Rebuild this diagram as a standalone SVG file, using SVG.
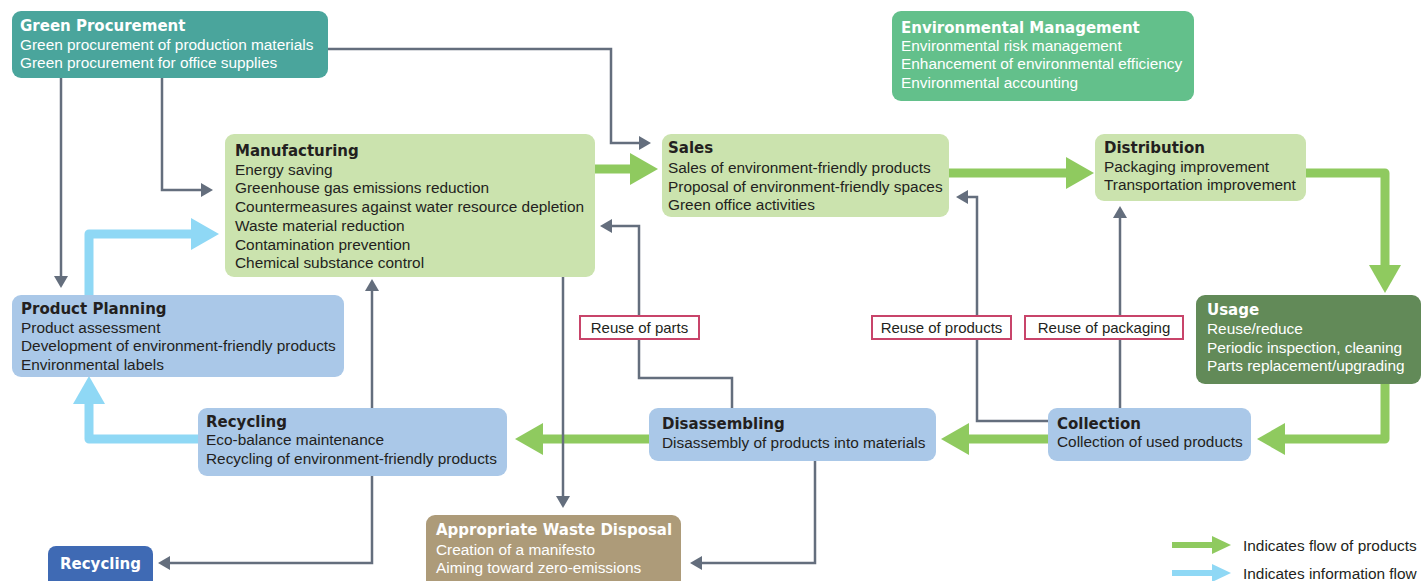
<svg xmlns="http://www.w3.org/2000/svg" width="1423" height="581" viewBox="0 0 1423 581">
<defs>
<style>
.t{font-family:"DejaVu Sans","Liberation Sans",sans-serif;font-weight:bold;font-size:15px;fill:#231f20}
.b{font-family:"Liberation Sans",Arial,sans-serif;font-size:15.4px;fill:#231f20}
.w{fill:#ffffff}
.g{fill:none;stroke:#646e7d;stroke-width:2.5}
.pg{fill:none;stroke:#8fca5f;stroke-width:9;stroke-linejoin:round}
.pb{fill:none;stroke:#8fd8f5;stroke-width:9;stroke-linejoin:round}
.lab{fill:#ffffff;stroke:#c8446a;stroke-width:2}
.lt{font-family:"Liberation Sans",Arial,sans-serif;font-size:15px;fill:#231f20;text-anchor:middle}
</style>
<marker id="ag" markerUnits="userSpaceOnUse" markerWidth="12" markerHeight="14" viewBox="0 0 12 14" refX="0" refY="7" orient="auto"><path d="M0,0 L12,7 L0,14 z" fill="#646e7d"/></marker>
<marker id="ap" markerUnits="userSpaceOnUse" markerWidth="28" markerHeight="32" viewBox="0 0 28 32" refX="0" refY="16" orient="auto"><path d="M0,0 L28,16 L0,32 z" fill="#8fca5f"/></marker>
<marker id="ab" markerUnits="userSpaceOnUse" markerWidth="28" markerHeight="32" viewBox="0 0 28 32" refX="0" refY="16" orient="auto"><path d="M0,0 L28,16 L0,32 z" fill="#8fd8f5"/></marker>
</defs>
<rect width="1423" height="581" fill="#ffffff"/>

<g id="connectors">
<path class="pg" d="M595,169 H630" marker-end="url(#ap)"/>
<path class="pg" d="M949,173 H1066" marker-end="url(#ap)"/>
<path class="pg" d="M1306,173 H1385 V265" marker-end="url(#ap)"/>
<path class="pg" d="M1385,384 V439 H1285" marker-end="url(#ap)"/>
<path class="pg" d="M1048,439 H969" marker-end="url(#ap)"/>
<path class="pg" d="M649,439 H543" marker-end="url(#ap)"/>
<path class="pb" d="M198,439 H89 V404" marker-end="url(#ab)"/>
<path class="pb" d="M89,295 V234 H191" marker-end="url(#ab)"/>
<path class="g" d="M328,49 H611 V143 H639" marker-end="url(#ag)"/>
<path class="g" d="M61,78 V276" marker-end="url(#ag)"/>
<path class="g" d="M162,78 V190 H201" marker-end="url(#ag)"/>
<path class="g" d="M732,408 V378 H639 V226 H612" marker-end="url(#ag)"/>
<path class="g" d="M1048,421 H977 V197 H968" marker-end="url(#ag)"/>
<path class="g" d="M1120,408 V218" marker-end="url(#ag)"/>
<path class="g" d="M563,277 V496" marker-end="url(#ag)"/>
<path class="g" d="M372,408 V291" marker-end="url(#ag)"/>
<path class="g" d="M372,476 V563 H170" marker-end="url(#ag)"/>
<path class="g" d="M815,461 V563 H702" marker-end="url(#ag)"/>
</g>

<g id="label-parts">
<rect class="lab" x="580" y="316" width="119" height="23"/>
<text class="lt" x="639.5" y="333">Reuse of parts</text>
</g>
<g id="label-products">
<rect class="lab" x="872" y="316" width="139" height="23"/>
<text class="lt" x="941.5" y="333">Reuse of products</text>
</g>
<g id="label-packaging">
<rect class="lab" x="1025" y="316" width="158" height="23"/>
<text class="lt" x="1104" y="333">Reuse of packaging</text>
</g>

<g id="green-procurement">
<rect x="12" y="11" width="316" height="67" rx="9" fill="#4aa59c"/>
<text class="t w" x="20" y="31">Green Procurement</text>
<text class="b w" x="20" y="50">Green procurement of production materials</text>
<text class="b w" x="20" y="68">Green procurement for office supplies</text>
</g>

<g id="environmental-management">
<rect x="892" y="11" width="302" height="90" rx="9" fill="#63c08b"/>
<text class="t w" x="901" y="33">Environmental Management</text>
<text class="b w" x="901" y="51">Environmental risk management</text>
<text class="b w" x="901" y="69">Enhancement of environmental efficiency</text>
<text class="b w" x="901" y="88">Environmental accounting</text>
</g>

<g id="manufacturing">
<rect x="225" y="134" width="370" height="143" rx="9" fill="#cbe3ae"/>
<text class="t" x="235" y="156">Manufacturing</text>
<text class="b" x="235" y="175">Energy saving</text>
<text class="b" x="235" y="193">Greenhouse gas emissions reduction</text>
<text class="b" x="235" y="212">Countermeasures against water resource depletion</text>
<text class="b" x="235" y="231">Waste material reduction</text>
<text class="b" x="235" y="250">Contamination prevention</text>
<text class="b" x="235" y="268">Chemical substance control</text>
</g>

<g id="sales">
<rect x="662" y="134" width="287" height="83" rx="9" fill="#cbe3ae"/>
<text class="t" x="668" y="153">Sales</text>
<text class="b" x="668" y="173">Sales of environment-friendly products</text>
<text class="b" x="668" y="192">Proposal of environment-friendly spaces</text>
<text class="b" x="668" y="210">Green office activities</text>
</g>

<g id="distribution">
<rect x="1095" y="134" width="211" height="67" rx="9" fill="#cbe3ae"/>
<text class="t" x="1104" y="153">Distribution</text>
<text class="b" x="1104" y="172">Packaging improvement</text>
<text class="b" x="1104" y="190">Transportation improvement</text>
</g>

<g id="usage">
<rect x="1196" y="295" width="225" height="89" rx="9" fill="#628a58"/>
<text class="t w" x="1207" y="315">Usage</text>
<text class="b w" x="1207" y="334">Reuse/reduce</text>
<text class="b w" x="1207" y="353">Periodic inspection, cleaning</text>
<text class="b w" x="1207" y="371">Parts replacement/upgrading</text>
</g>

<g id="product-planning">
<rect x="12" y="295" width="332" height="82" rx="9" fill="#aac8e8"/>
<text class="t" x="21" y="314">Product Planning</text>
<text class="b" x="21" y="333">Product assessment</text>
<text class="b" x="21" y="351">Development of environment-friendly products</text>
<text class="b" x="21" y="370">Environmental labels</text>
</g>

<g id="recycling">
<rect x="198" y="408" width="309" height="68" rx="9" fill="#aac8e8"/>
<text class="t" x="206" y="427">Recycling</text>
<text class="b" x="206" y="445">Eco-balance maintenance</text>
<text class="b" x="206" y="464">Recycling of environment-friendly products</text>
</g>

<g id="disassembling">
<rect x="649" y="408" width="287" height="53" rx="9" fill="#aac8e8"/>
<text class="t" x="662" y="429">Disassembling</text>
<text class="b" x="662" y="448">Disassembly of products into materials</text>
</g>

<g id="collection">
<rect x="1048" y="408" width="203" height="53" rx="9" fill="#aac8e8"/>
<text class="t" x="1057" y="429">Collection</text>
<text class="b" x="1057" y="447">Collection of used products</text>
</g>

<g id="waste-disposal">
<rect x="426" y="515" width="255" height="80" rx="9" fill="#ad9b79"/>
<text class="t w" x="436" y="535">Appropriate Waste Disposal</text>
<text class="b w" x="436" y="555">Creation of a manifesto</text>
<text class="b w" x="436" y="573">Aiming toward zero-emissions</text>
</g>

<g id="recycling-out">
<rect x="48" y="546" width="105" height="45" rx="8" fill="#3f6ab4"/>
<text class="t w" x="100.5" y="569" text-anchor="middle" font-size="14.5">Recycling</text>
</g>

<g id="legend">
<path d="M1172,545 H1213" stroke="#8fca5f" stroke-width="6" fill="none"/>
<path d="M1212,536 L1231,545 L1212,554 z" fill="#8fca5f"/>
<text class="b" x="1243" y="551">Indicates flow of products</text>
<path d="M1172,573 H1213" stroke="#8fd8f5" stroke-width="6" fill="none"/>
<path d="M1212,564 L1231,573 L1212,582 z" fill="#8fd8f5"/>
<text class="b" x="1243" y="579">Indicates information flow</text>
</g>
</svg>
